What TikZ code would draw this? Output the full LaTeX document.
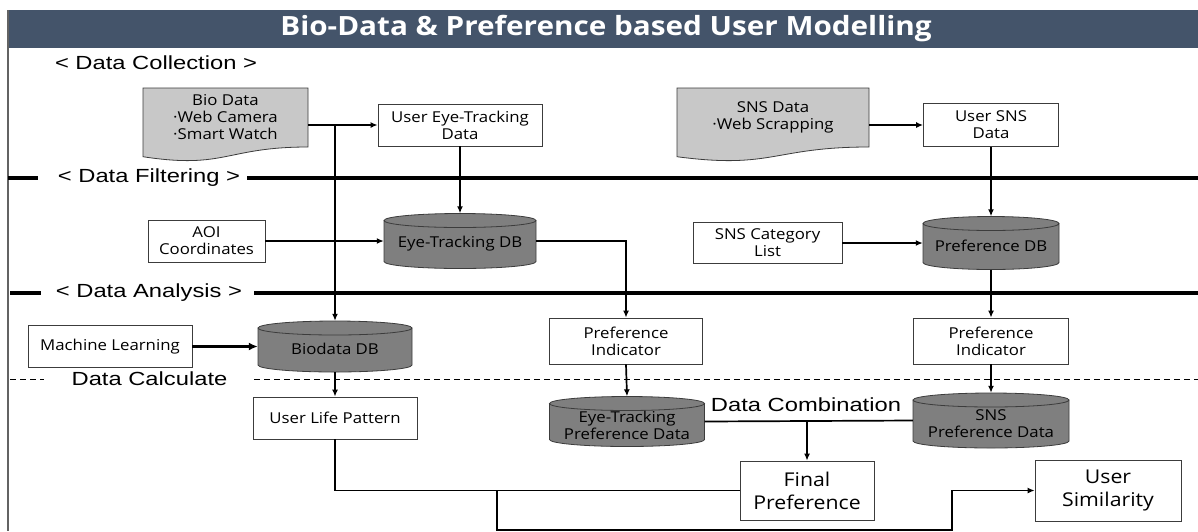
\documentclass[tikz,border=0pt]{standalone}
\usepackage{fontspec}
\setmainfont{Open Sans}
\newfontfamily\secfont[FakeStretch=1.25]{Liberation Sans}
\newfontfamily\boxfont[FakeStretch=1.12]{Open Sans}
\newfontfamily\ttlfont[FakeStretch=1.12]{Open Sans}
\usetikzlibrary{arrows.meta,calc,backgrounds}
\definecolor{titlebg}{HTML}{44546A}
\definecolor{docfill}{HTML}{C8C8C8}
\definecolor{cylfill}{HTML}{7F7F7F}
\definecolor{edgec}{HTML}{3C3C3C}
\tikzset{
  box/.style={draw=edgec, line width=0.8pt, fill=white, align=center, inner sep=0pt,
    font=\boxfont\fontsize{15}{17}\selectfont},
  bigbox/.style={box, font=\boxfont\fontsize{19}{23}\selectfont},
  dbnode/.style={inner sep=0pt},
  dbtext/.style={align=center, inner sep=0pt, font=\boxfont\fontsize{15}{17}\selectfont},
  docnode/.style={align=center, inner sep=0pt, font=\boxfont\fontsize{15}{17}\selectfont},
  seclabel/.style={inner sep=0pt, font=\secfont\fontsize{19}{21}\selectfont},
  secline/.style={line width=3.6pt},
  calcline/.style={line width=1pt, dash pattern=on 6pt off 4pt},
  conn/.style={line width=1.7pt, -{Latex[length=7pt,width=6pt]}},
  thickconn/.style={line width=2.6pt, -{Latex[length=9pt,width=8pt]}},
  plainconn/.style={line width=1.7pt},
  cylshape/.style={draw=edgec, line width=0.8pt, fill=cylfill},
  docshape/.style={draw=edgec, line width=0.8pt, fill=docfill}
}
% #1 centre x, #2 centre y, #3 half width, #4 half height
\newcommand\drawcyl[4]{%
  \path[cylshape]
    ({#1-#3},{#2+#4-7}) -- ({#1-#3},{#2-#4+7})
    arc[start angle=180,end angle=360,x radius=#3,y radius=7]
    -- ({#1+#3},{#2+#4-7})
    arc[start angle=0,end angle=180,x radius=#3,y radius=7] -- cycle
    (#1,{#2+#4-7}) ellipse[x radius=#3,y radius=7];}
% #1 left x, #2 right x, #3 top y, #4 y of right bottom end
\newcommand\drawdoc[4]{%
  \path[docshape]
    (#1,#3) -- (#2,#3) -- (#2,#4)
    .. controls ({(#1+#2)/2},#4) and ({(#1+#2)/2},{#3-1.38*(#3-(#4))}) ..
    (#1,{#3-1.1646*(#3-(#4))}) -- cycle;}
\begin{document}
\begin{tikzpicture}[x=1pt,y=1pt]
\useasboundingbox (0,0) rectangle (1198,-531);
% title
\fill[titlebg] (8,-10) rectangle (1198,-47.5);
\draw[edgec!80, line width=1.2pt] (8,-10) -- (8,-531);
\node[inner sep=0pt, text=white, font=\ttlfont\bfseries\fontsize{26.5}{30}\selectfont] (title) at (606,-29)
  {Bio-Data \& Preference based User Modelling};
% section labels and lines
\node[seclabel] (lcol) at (156,-63) {< Data Collection >};
\node[seclabel] (lfil) at (149,-178) {< Data Filtering >};
\node[seclabel] (lana) at (149,-293) {< Data Analysis >};
\node[seclabel] (lcal) at (149.5,-379) {Data Calculate};
\draw[secline] (8,-178) -- (38,-178);
\draw[secline] (247,-178) -- (1198,-178);
\draw[secline] (10,-293) -- (41,-293);
\draw[secline] (254,-293) -- (1198,-293);
\draw[calcline] (10,-379) -- (44,-379);
\draw[calcline] (254,-379) -- (1198,-379);
% data collection
\node[docnode, minimum width=165pt, minimum height=59pt] (bio) at (225.5,-117.5)
  {Bio Data\\·Web Camera\\·Smart Watch};
\node[box, minimum width=164pt, minimum height=42pt] (ueye) at (460,-125) {User Eye-Tracking\\Data};
\node[docnode, minimum width=192pt, minimum height=59pt] (sns) at (773,-117.5)
  {SNS Data\\·Web Scrapping};
\node[box, minimum width=135pt, minimum height=43pt] (usns) at (991,-125) {User SNS\\Data};
% data filtering
\node[box, minimum width=117pt, minimum height=42pt] (aoi) at (206.5,-241) {AOI\\Coordinates};
\node[dbnode, minimum width=152pt, minimum height=55pt] (etdb) at (460,-241) {};
\node[dbtext] (etdbt) at (460,-244) {Eye-Tracking DB};
\node[box, minimum width=149pt, minimum height=41pt] (scl) at (767.5,-243) {SNS Category\\List};
\node[dbnode, minimum width=136pt, minimum height=53pt] (pdb) at (991,-243) {};
\node[dbtext] (pdbt) at (991,-246) {Preference DB};
% data analysis
\node[box, minimum width=164pt, minimum height=42pt] (ml) at (110,-346.5) {Machine Learning};
\node[dbnode, minimum width=154pt, minimum height=51pt] (bdb) at (335,-346.5) {};
\node[dbtext] (bdbt) at (335,-349) {Biodata DB};
\node[box, minimum width=153pt, minimum height=46pt] (lpi) at (626,-341) {Preference\\Indicator};
\node[box, minimum width=155pt, minimum height=46pt] (rpi) at (991,-341) {Preference\\Indicator};
% data calculate
\node[box, minimum width=164pt, minimum height=42pt] (ulp) at (335,-418) {User Life Pattern};
\node[dbnode, minimum width=155pt, minimum height=50pt] (etpd) at (627,-421.5) {};
\node[dbtext] (etpdt) at (627,-425.5) {Eye-Tracking\\Preference Data};
\node[dbnode, minimum width=156pt, minimum height=55pt] (snspd) at (991,-420.5) {};
\node[dbtext] (snspdt) at (991,-424) {SNS\\Preference Data};
\node[seclabel] (lcomb) at (806,-405) {Data Combination};
\node[bigbox, minimum width=134pt, minimum height=59pt] (final) at (807,-490.5) {Final\\Preference};
\node[bigbox, minimum width=146pt, minimum height=61pt] (usim) at (1108,-490.5) {User\\Similarity};
% shapes behind text
\begin{pgfonlayer}{background}
  \fill[white] (0,0) rectangle (1198,-531);
  \drawdoc{143}{308}{-88}{-147}
  \drawdoc{677}{869}{-88}{-147}
  \drawcyl{460}{-241}{76}{27.5}
  \drawcyl{991}{-243}{68}{26.5}
  \drawcyl{335}{-346.5}{77}{25.5}
  \drawcyl{627}{-421.5}{77.5}{25}
  \drawcyl{991}{-420.5}{78}{27.5}
\end{pgfonlayer}
% connectors
\draw[conn] (bio.east |- ueye.west) -- (ueye.west);
\draw[conn] (bdb.north |- ueye.west) -- (bdb.north);
\draw[conn] (ueye.south) -- (etdb.north);
\draw[conn] (aoi.east) -- (etdb.west);
\draw[conn] (etdb.east) -| (lpi.north);
\draw[conn] (sns.east |- usns.west) -- (usns.west);
\draw[conn] (usns.south) -- (pdb.north);
\draw[conn] (scl.east) -- (pdb.west);
\draw[conn] (pdb.south) -- (rpi.north);
\draw[thickconn] (ml.east) -- (bdb.west);
\draw[conn] (bdb.south) -- (ulp.north);
\draw[conn] (lpi.south) -- (etpd.north);
\draw[conn] (rpi.south) -- (snspd.north);
\draw[plainconn] (etpd.east) -- (snspd.west);
\coordinate (jc) at (807,-421);
\draw[conn] (jc) -- (final.north);
\draw[plainconn] (ulp.south) |- (final.west);
\coordinate (jb) at (497,-490.5);
\coordinate (jd) at (952,-530);
\draw[conn] (jb) -- (jb |- jd) -- (jd) |- (usim.west);
\end{tikzpicture}
\end{document}
